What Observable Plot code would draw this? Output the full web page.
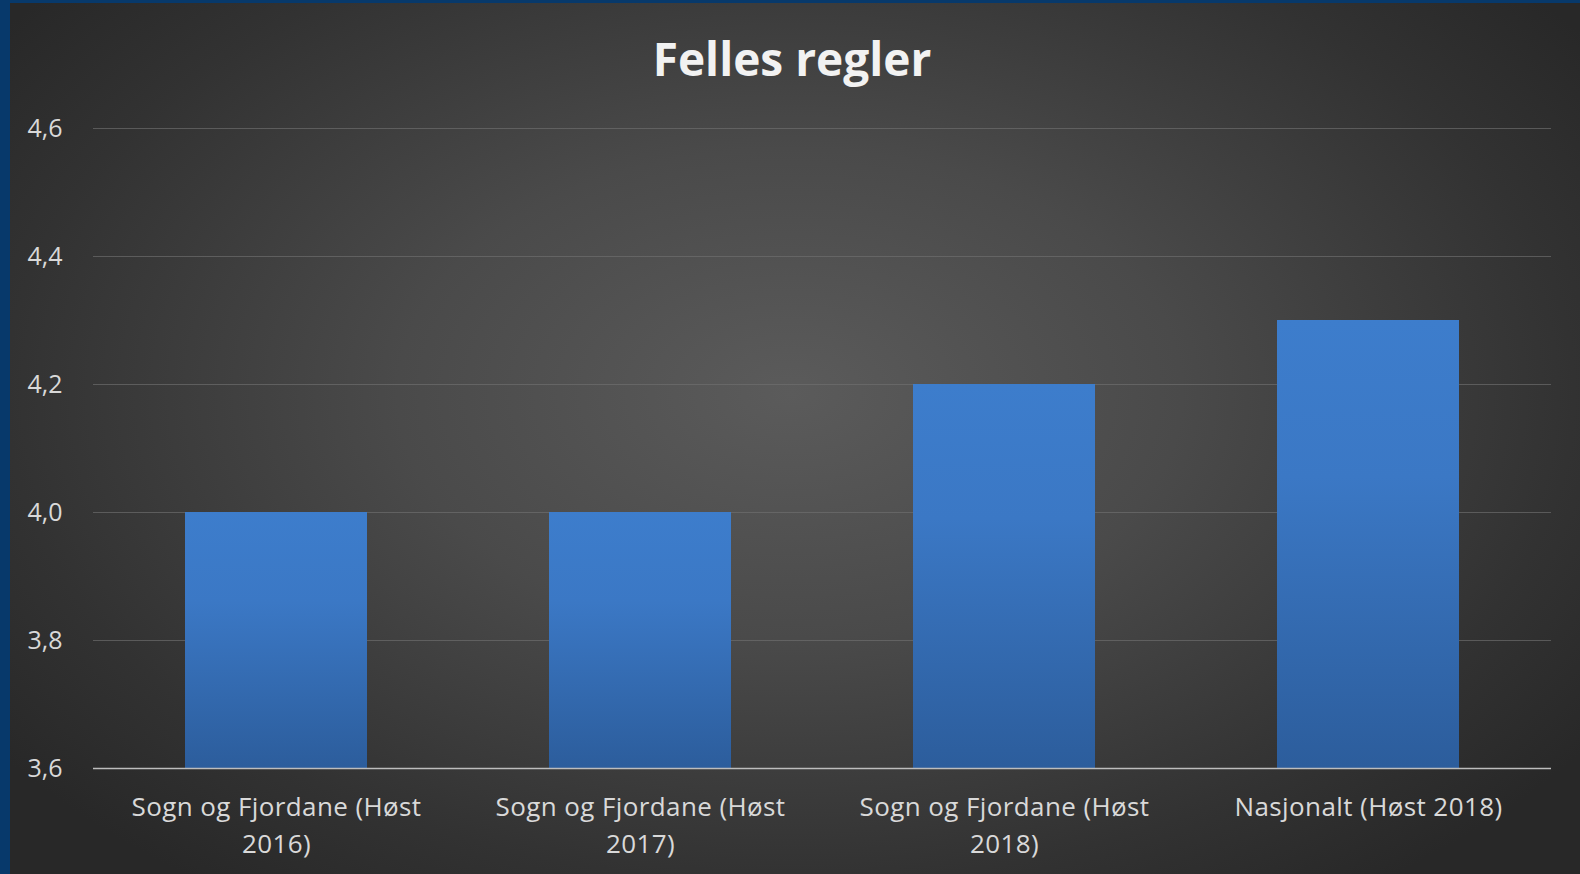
<!DOCTYPE html>
<html>
<head>
<meta charset="utf-8">
<script src="https://cdn.jsdelivr.net/npm/d3@7"></script>
<script src="https://cdn.jsdelivr.net/npm/@observablehq/plot@0.6"></script>
<style>
  html, body { margin: 0; padding: 0; background: #262626; }
  #frame {
    position: relative; width: 1580px; height: 874px; overflow: hidden;
    background: radial-gradient(ellipse 62% 70% at 50% 45%, #5b5b5b 0%, #4a4a4a 40%, #323232 80%, #282828 100%);
    font-family: "Open Sans", "Noto Sans", sans-serif;
  }
  #leftbar { position: absolute; left: 0; top: 0; width: 10px; height: 874px; background: #07396b; }
  #topbar { position: absolute; left: 0; top: 0; width: 1580px; height: 3px; background: #07396b; }
  #title {
    position: absolute; left: 0; top: 28px; width: 1584px; text-align: center;
    font-weight: 700; font-size: 46px; line-height: 60px; color: #f2f2f2;
  }
  #chart { position: absolute; left: 0; top: 0; }
</style>
</head>
<body>
<div id="frame">
  <div id="chart"></div>
  <div id="leftbar"></div>
  <div id="topbar"></div>
  <div id="title">Felles regler</div>
</div>
<script>
const categories = [
  "Sogn og Fjordane (Høst 2016)",
  "Sogn og Fjordane (Høst 2017)",
  "Sogn og Fjordane (Høst 2018)",
  "Nasjonalt (Høst 2018)"
];
const tickLabels = [
  "Sogn og Fjordane (Høst\n2016)",
  "Sogn og Fjordane (Høst\n2017)",
  "Sogn og Fjordane (Høst\n2018)",
  "Nasjonalt (Høst 2018)"
];
const values = [4.0, 4.0, 4.2, 4.3];
const yTicks = [3.6, 3.8, 4.0, 4.2, 4.4, 4.6];
const yMin = 3.6;
const yMax = 4.6;

const data = categories.map((c, i) => ({category: c, value: values[i]}));
const fmt = d => d.toFixed(1).replace(".", ",");

const chart = Plot.plot({
  width: 1580,
  height: 874,
  marginTop: 128,
  marginBottom: 106,
  marginLeft: 93,
  marginRight: 29,
  style: {background: "transparent", fontFamily: "'Open Sans', 'Noto Sans', sans-serif"},
  x: {domain: categories, paddingInner: 0.5, paddingOuter: 0.25},
  y: {domain: [yMin, yMax]},
  marks: [
    Plot.gridY(yTicks.filter(d => d !== yMin), {stroke: "#707070", strokeOpacity: 0.65, strokeWidth: 1}),
    Plot.barY(data, {x: "category", y1: yMin, y2: "value", fill: "url(#barGrad)"}),
    Plot.ruleY([yMin], {stroke: "#bdbdbd", strokeWidth: 1.5}),
    Plot.axisY(yTicks, {tickSize: 0, tickPadding: 31, tickFormat: fmt, fontSize: 25, fill: "#d9d9d9", label: null}),
    Plot.axisX({tickSize: 0, tickPadding: 22, fontSize: 26, fill: "#d9d9d9", lineHeight: 1.4, label: null,
      tickFormat: d => tickLabels[categories.indexOf(d)]})
  ]
});

const svg = d3.select(chart);
svg.selectAll("g[aria-label='x-axis tick label'] text").style("letter-spacing", "0.4px");
const defs = svg.insert("defs", ":first-child");
const grad = defs.append("linearGradient").attr("id", "barGrad")
  .attr("x1", 0).attr("y1", 0).attr("x2", 0).attr("y2", 1);
grad.append("stop").attr("offset", "0%").attr("stop-color", "#3d7dcc");
grad.append("stop").attr("offset", "35%").attr("stop-color", "#3b78c5");
grad.append("stop").attr("offset", "100%").attr("stop-color", "#2c5d9c");

document.getElementById("chart").appendChild(chart);
</script>
</body>
</html>
